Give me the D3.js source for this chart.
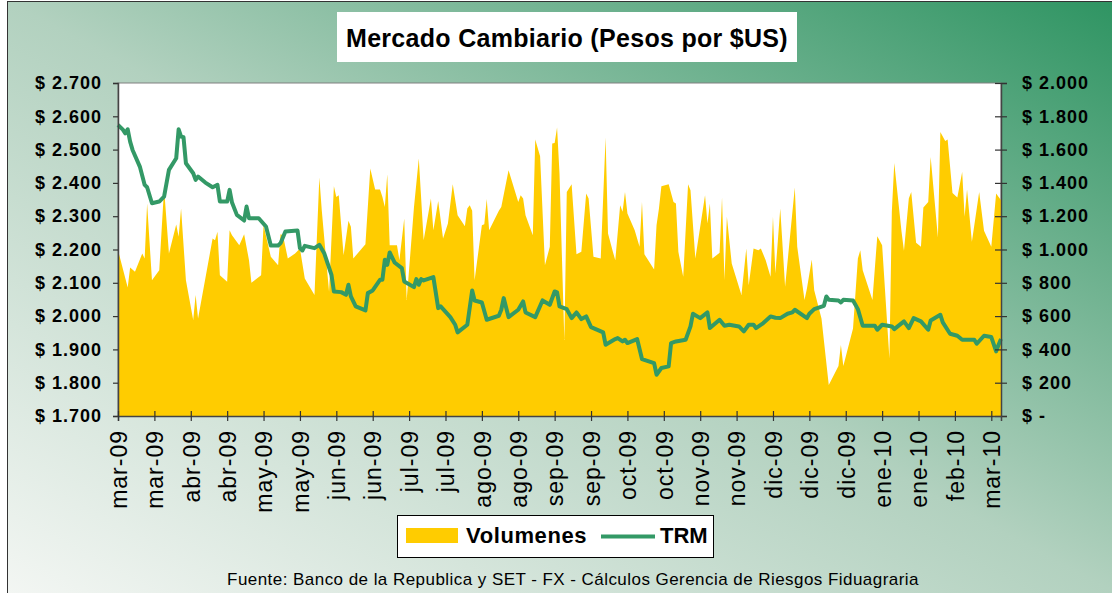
<!DOCTYPE html>
<html>
<head>
<meta charset="utf-8">
<script src="https://cdn.jsdelivr.net/npm/d3@7"></script>
<style>
  body { margin: 0; }
  svg text { font-family: Arial, "Liberation Sans", sans-serif; }
</style>
</head>
<body>
<div id="chart"></div>
<script>
// datos
var volDates = ["2009-03-06","2009-03-10","2009-03-11","2009-03-13","2009-03-16","2009-03-17","2009-03-18","2009-03-20","2009-03-23","2009-03-25","2009-03-27","2009-03-30","2009-03-31",
  "2009-04-01","2009-04-03","2009-04-06","2009-04-07","2009-04-08","2009-04-14","2009-04-15","2009-04-16","2009-04-17","2009-04-20","2009-04-21","2009-04-22","2009-04-25","2009-04-27","2009-04-29","2009-04-30",
  "2009-05-04","2009-05-05","2009-05-08","2009-05-11","2009-05-12","2009-05-13","2009-05-15","2009-05-18","2009-05-20","2009-05-22","2009-05-26","2009-05-28","2009-05-29",
  "2009-06-01","2009-06-03","2009-06-04","2009-06-05","2009-06-07","2009-06-09","2009-06-10","2009-06-11","2009-06-16","2009-06-18","2009-06-20","2009-06-22","2009-06-23","2009-06-24","2009-06-25","2009-06-26","2009-06-29","2009-06-30",
  "2009-07-02","2009-07-03","2009-07-06","2009-07-08","2009-07-10","2009-07-13","2009-07-14","2009-07-16","2009-07-18","2009-07-20","2009-07-22","2009-07-24","2009-07-27","2009-07-28","2009-07-29","2009-07-30","2009-07-31",
  "2009-08-03","2009-08-04","2009-08-05","2009-08-06","2009-08-10","2009-08-11","2009-08-14","2009-08-18","2009-08-19","2009-08-20","2009-08-21","2009-08-24","2009-08-25","2009-08-27","2009-08-29","2009-08-31",
  "2009-09-01","2009-09-02","2009-09-03","2009-09-04","2009-09-06","2009-09-07","2009-09-09","2009-09-11","2009-09-13","2009-09-15","2009-09-16","2009-09-18","2009-09-21","2009-09-23","2009-09-24","2009-09-26","2009-09-27","2009-09-29","2009-09-30",
  "2009-10-01","2009-10-02","2009-10-05","2009-10-07","2009-10-08","2009-10-09","2009-10-13","2009-10-14","2009-10-15","2009-10-16","2009-10-19","2009-10-21","2009-10-22","2009-10-23","2009-10-25","2009-10-27","2009-10-28","2009-10-30",
  "2009-11-03","2009-11-04","2009-11-05","2009-11-06","2009-11-09","2009-11-10","2009-11-11","2009-11-12","2009-11-14","2009-11-18","2009-11-20","2009-11-21","2009-11-23","2009-11-25","2009-11-26","2009-11-28","2009-11-30",
  "2009-12-01","2009-12-02","2009-12-04","2009-12-06","2009-12-10","2009-12-11","2009-12-14","2009-12-15","2009-12-17","2009-12-18","2009-12-21","2009-12-24","2009-12-28","2009-12-29","2009-12-30",
  "2010-01-03","2010-01-05","2010-01-06","2010-01-07","2010-01-11","2010-01-13","2010-01-15","2010-01-18","2010-01-19","2010-01-20","2010-01-23","2010-01-24","2010-01-26","2010-01-27","2010-01-29","2010-01-31",
  "2010-02-01","2010-02-03","2010-02-04","2010-02-07","2010-02-08","2010-02-10","2010-02-11","2010-02-13","2010-02-15","2010-02-17","2010-02-18","2010-02-19","2010-02-21","2010-02-24","2010-02-26",
  "2010-03-01","2010-03-03","2010-03-05"];
var volValues = [996,772,892,866,976,946,1276,816,876,1366,976,1150,1076,
  1246,816,576,726,586,1066,1056,1106,846,806,1116,1086,1026,1092,936,800,
  846,1146,956,906,1092,1086,946,976,1006,826,726,1432,1236,
  746,1380,1316,1326,966,1172,1136,946,1032,1486,1360,1360,1316,1256,1452,1026,1026,936,
  1186,696,1252,1546,1056,1306,1116,1292,1066,1156,1392,1206,1140,1246,1266,1232,816,
  1146,1152,1304,1116,1232,1256,1476,1286,1326,1306,1206,1086,1660,1560,906,1016,
  1636,1640,1732,1456,456,1346,1392,972,986,1336,1306,956,946,1672,1096,986,936,1266,1226,
  1346,1216,1116,1016,1286,972,880,1146,1246,1380,1392,1286,1276,986,836,1392,1356,946,
  1326,1156,1276,946,980,1312,816,1196,916,726,1006,786,1006,996,1006,936,836,
  1196,856,1246,776,1372,1016,696,766,940,756,586,186,300,426,300,
  526,946,996,876,696,1080,1026,346,1226,1520,1106,992,1306,1346,1040,1016,
  1252,1286,1556,1072,1706,1652,1660,1340,1312,1466,1196,1360,1046,1346,1112,
  1016,1336,1296];

var trmDates = ["2009-03-06","2009-03-08","2009-03-09","2009-03-10","2009-03-11","2009-03-12","2009-03-15","2009-03-17","2009-03-18","2009-03-20","2009-03-23","2009-03-25","2009-03-27","2009-03-30","2009-03-31",
  "2009-04-01","2009-04-02","2009-04-03","2009-04-06","2009-04-07","2009-04-08","2009-04-11","2009-04-14","2009-04-16","2009-04-17","2009-04-20","2009-04-21","2009-04-22","2009-04-24","2009-04-27","2009-04-28","2009-04-29",
  "2009-05-03","2009-05-06","2009-05-08","2009-05-11","2009-05-12","2009-05-14","2009-05-19","2009-05-20","2009-05-21","2009-05-22","2009-05-26","2009-05-28","2009-05-30",
  "2009-06-02","2009-06-03","2009-06-06","2009-06-08","2009-06-09","2009-06-10","2009-06-12","2009-06-16","2009-06-17","2009-06-19","2009-06-22","2009-06-23","2009-06-24","2009-06-25","2009-06-26","2009-06-28",
  "2009-07-01","2009-07-02","2009-07-06","2009-07-07","2009-07-08","2009-07-09","2009-07-10","2009-07-14","2009-07-16","2009-07-17","2009-07-21","2009-07-23","2009-07-24","2009-07-28","2009-07-30","2009-07-31",
  "2009-08-03","2009-08-05","2009-08-10","2009-08-11","2009-08-12","2009-08-14","2009-08-18","2009-08-20","2009-08-21","2009-08-25","2009-08-28","2009-08-31",
  "2009-09-02","2009-09-03","2009-09-04","2009-09-07","2009-09-09","2009-09-11","2009-09-13","2009-09-15","2009-09-17","2009-09-22","2009-09-23","2009-09-27","2009-09-28","2009-09-30",
  "2009-10-01","2009-10-02","2009-10-06","2009-10-08","2009-10-13","2009-10-14","2009-10-16","2009-10-19","2009-10-20","2009-10-22","2009-10-26","2009-10-28","2009-10-29",
  "2009-11-01","2009-11-04","2009-11-05","2009-11-09","2009-11-11","2009-11-13","2009-11-17","2009-11-19","2009-11-21","2009-11-23","2009-11-24","2009-11-27","2009-11-30",
  "2009-12-02","2009-12-04","2009-12-07","2009-12-09","2009-12-10","2009-12-15","2009-12-16","2009-12-18","2009-12-22","2009-12-23","2009-12-24","2009-12-28","2009-12-29","2009-12-30",
  "2010-01-03","2010-01-05","2010-01-07","2010-01-12","2010-01-13","2010-01-15","2010-01-19","2010-01-20","2010-01-24","2010-01-26","2010-01-28","2010-01-31",
  "2010-02-03","2010-02-04","2010-02-08","2010-02-09","2010-02-12","2010-02-15","2010-02-17","2010-02-22","2010-02-23","2010-02-26",
  "2010-03-01","2010-03-03","2010-03-04","2010-03-05"];
var trmValues = [2574,2560,2549,2561,2524,2499,2449,2394,2387,2339,2344,2359,2439,2474,2561,
  2539,2537,2459,2429,2409,2419,2401,2387,2394,2344,2344,2379,2341,2304,2287,2329,2294,
  2294,2269,2212,2212,2219,2254,2257,2204,2197,2211,2204,2214,2189,
  2124,2074,2072,2064,2094,2059,2029,2017,2069,2077,2109,2109,2169,2154,2191,2161,
  2144,2104,2087,2111,2094,2111,2107,2117,2024,2029,1997,1974,1951,1974,2077,2047,
  2041,1989,2001,2019,2054,1997,2019,2044,2011,1997,2047,2034,
  2074,2071,2029,2021,1994,2011,1991,1999,1967,1951,1914,1931,1934,1924,
  1929,1919,1931,1871,1859,1824,1844,1849,1919,1924,1929,1969,2007,
  1994,2011,1964,1989,1971,1974,1969,1954,1974,1974,1964,1979,1999,
  1995,1994,2007,2011,2019,1994,2007,2021,2031,2059,2049,2047,2041,2049,
  2047,2021,1971,1971,1959,1974,1969,1961,1984,1964,1994,1984,
  1959,1987,2004,1981,1947,1941,1929,1929,1917,1941,
  1937,1894,1914,1931];

var axisStart = "2009-03-06";
var axisEnd = "2010-03-05";
var tickStepDays = 15;
var trmTicks = [1700,1800,1900,2000,2100,2200,2300,2400,2500,2600,2700];
var volTicks = [0,200,400,600,800,1000,1200,1400,1600,1800,2000];
var monthNames = ["ene","feb","mar","abr","may","jun","jul","ago","sep","oct","nov","dic"];

var width = 1112, height = 593;
var margin = {top: 83, right: 111, bottom: 177, left: 118};

var parse = d3.timeParse("%Y-%m-%d");

function pesos(v){
    if (v == 0) return "$ -";
    return "$ " + d3.format(",")(v).replace(/,/g, ".");
}

function fechaCorta(d){
    return monthNames[d.getMonth()] + "-" + d3.timeFormat("%y")(d);
}

var svg = d3.select("#chart").append("svg")
    .attr("width", width)
    .attr("height", height);

var defs = svg.append("defs");
var grad = defs.append("linearGradient")
    .attr("id", "fondo")
    .attr("x1", 0).attr("y1", 1).attr("x2", 1).attr("y2", 0);
grad.append("stop").attr("offset", 0).attr("stop-color", "#f3f6f3");
grad.append("stop").attr("offset", 0.5).attr("stop-color", "#b2d1bf");
grad.append("stop").attr("offset", 1).attr("stop-color", "#2e9462");

svg.append("rect")
    .attr("x", 7.5).attr("y", 1.5)
    .attr("width", width).attr("height", height)
    .attr("fill", "url(#fondo)")
    .attr("stroke", "#333").attr("stroke-width", 1);

// titulo
svg.append("rect")
    .attr("x", 337).attr("y", 12).attr("width", 460).attr("height", 50)
    .attr("fill", "#fff");
svg.append("text")
    .attr("x", 567).attr("y", 47)
    .attr("text-anchor", "middle")
    .style("font-size", "25px").style("font-weight", "bold")
    .style("letter-spacing", "0.3px")
    .text("Mercado Cambiario (Pesos por $US)");

var x = d3.scaleTime()
    .domain([parse(axisStart), parse(axisEnd)])
    .range([margin.left, width - margin.right]);
var yTrm = d3.scaleLinear()
    .domain([trmTicks[0], trmTicks[trmTicks.length - 1]])
    .range([height - margin.bottom, margin.top]);
var yVol = d3.scaleLinear()
    .domain([volTicks[0], volTicks[volTicks.length - 1]])
    .range([height - margin.bottom, margin.top]);

var plot = svg.append("g");
plot.append("rect")
    .attr("x", margin.left).attr("y", margin.top)
    .attr("width", width - margin.left - margin.right)
    .attr("height", height - margin.top - margin.bottom)
    .attr("fill", "#fff")
    .attr("stroke", "#808080");

var volData = volDates.map(function(d, i){ return {date: parse(d), value: volValues[i]}; });
var trmData = trmDates.map(function(d, i){ return {date: parse(d), value: trmValues[i]}; });

var area = d3.area()
    .x(function(d){ return x(d.date); })
    .y0(yVol(0))
    .y1(function(d){ return yVol(d.value); });

plot.append("path")
    .datum(volData)
    .attr("fill", "#ffcc00")
    .attr("d", area);

var line = d3.line()
    .x(function(d){ return x(d.date); })
    .y(function(d){ return yTrm(d.value); });

plot.append("path")
    .datum(trmData)
    .attr("fill", "none")
    .attr("stroke", "#339966")
    .attr("stroke-width", 4)
    .attr("stroke-linejoin", "round")
    .attr("d", line);

// ejes
var leftAxis = svg.append("g")
    .attr("transform", "translate(" + margin.left + ",0)")
    .call(d3.axisLeft(yTrm).tickValues(trmTicks).tickFormat(pesos).tickSize(5).tickPadding(11));

var rightAxis = svg.append("g")
    .attr("transform", "translate(" + (width - margin.right) + ",0)")
    .call(d3.axisRight(yVol).tickValues(volTicks).tickFormat(pesos).tickSize(6).tickPadding(15));
rightAxis.selectAll(".tick line").attr("x1", -6);

var xTicks = d3.range(25).map(function(k){ return d3.timeDay.offset(parse(axisStart), k * tickStepDays); });
var bottomAxis = svg.append("g")
    .attr("transform", "translate(0," + (height - margin.bottom) + ")")
    .call(d3.axisBottom(x).tickValues(xTicks).tickFormat(fechaCorta).tickSize(5).tickPadding(12));
bottomAxis.selectAll(".tick line").attr("y1", -5);
bottomAxis.selectAll(".tick text")
    .attr("transform", "rotate(-90)")
    .attr("text-anchor", "end")
    .attr("x", -14).attr("y", 0).attr("dy", "0.36em")
    .style("font-size", "23px")
    .style("letter-spacing", "1px")
    .style("fill", "#000");

[leftAxis, rightAxis].forEach(function(a){
    a.selectAll(".tick text")
        .style("font-size", "18px").style("font-weight", "bold")
        .style("fill", "#000").style("letter-spacing", "1px");
});
[leftAxis, rightAxis, bottomAxis].forEach(function(a){
    a.select(".domain").attr("stroke", "#444").attr("stroke-width", 1.5);
    a.selectAll(".tick line").attr("stroke", "#333").attr("stroke-width", 1.2);
});

// leyenda
var legend = svg.append("g");
legend.append("rect")
    .attr("x", 397.5).attr("y", 515.5).attr("width", 316).attr("height", 42)
    .attr("fill", "#fff").attr("stroke", "#000");
legend.append("rect")
    .attr("x", 406).attr("y", 528).attr("width", 52).attr("height", 15)
    .attr("fill", "#ffcc00");
legend.append("text")
    .attr("x", 466).attr("y", 543)
    .style("font-size", "22px").style("font-weight", "bold")
    .style("letter-spacing", "0.6px")
    .text("Volumenes");
legend.append("line")
    .attr("x1", 601).attr("x2", 655).attr("y1", 536.5).attr("y2", 536.5)
    .attr("stroke", "#339966").attr("stroke-width", 4);
legend.append("text")
    .attr("x", 660).attr("y", 543)
    .style("font-size", "22px").style("font-weight", "bold")
    .text("TRM");

svg.append("text")
    .attr("x", 573).attr("y", 585)
    .attr("text-anchor", "middle")
    .style("font-size", "17px")
    .style("letter-spacing", "0.45px")
    .text("Fuente: Banco de la Republica y SET - FX - Cálculos Gerencia de Riesgos Fiduagraria");
</script>
</body>
</html>
